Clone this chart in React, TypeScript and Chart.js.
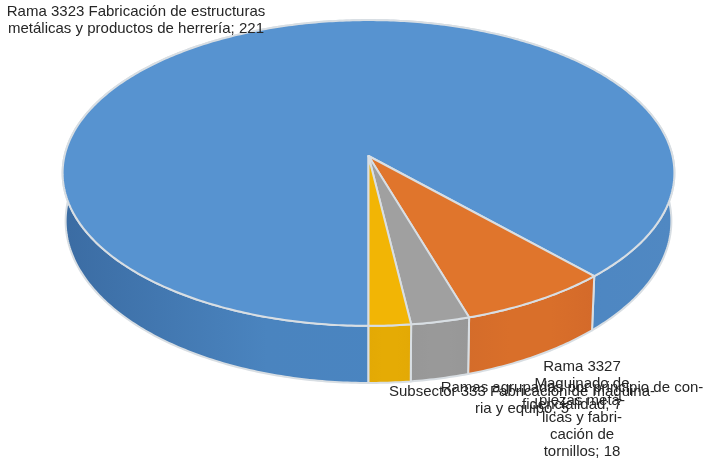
import React, { useEffect, useRef } from "react";
import { Chart, registerables } from "chart.js";

Chart.register(...registerables);

const categories = [
  "Rama 3323 Fabricación de estructuras metálicas y productos de herrería",
  "Rama 3327 Maquinado de piezas metálicas y fabricación de tornillos",
  "Ramas agrupadas por principio de confidencialidad",
  "Subsector 333 Fabricación de maquinaria y equipo",
];
const values = [221, 18, 7, 5];
const faceColors = ["#5793D0", "#E0752C", "#A0A0A0", "#F2B505"];
const wallStops = [
  ["#3B6CA3", "#4A84BF", "#4A85C2", "#5088C2"],
  ["#D46C2A", "#D96F2A", "#D96F2A", "#D46A2A"],
  ["#979797", "#999999", "#999999", "#979797"],
  ["#E3A905", "#E5AB05", "#E5AB05", "#E3A905"],
];
const labelLines = [
  ["Rama 3323 Fabricación de estructuras", "metálicas y productos de herrería"],
  ["Rama 3327", "Maquinado de", "piezas metá-", "licas y fabri-", "cación de", "tornillos"],
  ["Ramas agrupadas por principio de con-", "fidencialidad"],
  ["Subsector 333 Fabricación de maquina-", "ria y equipo"],
];
const labelAnchors = [
  { x: 136, y: 12 },
  { x: 582, y: 367 },
  { x: 572, y: 388 },
  { x: 522, y: 392 },
];

const APEX = { x: 368.5, y: 156 };
const AX = 304;
const AY = 151;
const PERSP = 0.111;
const FLOOR_DROP = 47;
const FLOOR_AX = 301;
const FLOOR_AY = 160;
const LINE = 17;

function project(angle: number, floor: boolean) {
  const u = Math.cos(angle);
  const v = Math.sin(angle);
  const w = 1 - PERSP * v;
  return floor
    ? { x: APEX.x + (FLOOR_AX * u) / w, y: APEX.y + FLOOR_DROP + (FLOOR_AY * v) / w }
    : { x: APEX.x + (AX * u) / w, y: APEX.y + (AY * v) / w };
}

function arcPoints(start: number, end: number, floor: boolean) {
  const n = Math.max(8, Math.ceil((end - start) * 80));
  const pts = [];
  for (let i = 0; i <= n; i++) pts.push(project(start + ((end - start) * i) / n, floor));
  return pts;
}

const pie3d = {
  id: "pie3d",
  beforeDatasetsDraw(chart: any) {
    const ctx = chart.ctx as CanvasRenderingContext2D;
    const arcs = chart.getDatasetMeta(0).data as any[];
    ctx.save();
    ctx.lineJoin = "round";
    arcs.forEach((arc, i) => {
      const top = arcPoints(arc.startAngle, arc.endAngle, false);
      const bottom = arcPoints(arc.startAngle, arc.endAngle, true);
      const xs = bottom.map((p) => p.x);
      const x0 = i === 0 ? APEX.x - AX : Math.min(...xs);
      const x1 = i === 0 ? APEX.x + AX : Math.max(...xs);
      const g = ctx.createLinearGradient(x0, 0, x1, 0);
      wallStops[i].forEach((c, k) => g.addColorStop(k / (wallStops[i].length - 1), c));
      ctx.beginPath();
      top.forEach((p, k) => (k ? ctx.lineTo(p.x, p.y) : ctx.moveTo(p.x, p.y)));
      bottom.reverse().forEach((p) => ctx.lineTo(p.x, p.y));
      ctx.closePath();
      ctx.fillStyle = g;
      ctx.fill();
      ctx.strokeStyle = arc.options.borderColor;
      ctx.lineWidth = arc.options.borderWidth;
      ctx.stroke();
    });
    arcs.forEach((arc) => {
      ctx.beginPath();
      ctx.moveTo(APEX.x, APEX.y);
      arcPoints(arc.startAngle, arc.endAngle, false).forEach((p) => ctx.lineTo(p.x, p.y));
      ctx.closePath();
      ctx.fillStyle = arc.options.backgroundColor;
      ctx.fill();
      ctx.strokeStyle = arc.options.borderColor;
      ctx.lineWidth = arc.options.borderWidth;
      ctx.stroke();
    });
    ctx.restore();
    return false;
  },
  afterDraw(chart: any) {
    const ctx = chart.ctx as CanvasRenderingContext2D;
    ctx.save();
    ctx.font = '15px "Liberation Sans", Arial, sans-serif';
    ctx.fillStyle = "#262626";
    ctx.textAlign = "center";
    ctx.textBaseline = "middle";
    [0, 1, 3, 2].forEach((i) => {
      const lines = labelLines[i];
      lines.forEach((line, k) => {
        const text = k === lines.length - 1 ? `${line}; ${values[i]}` : line;
        ctx.fillText(text, labelAnchors[i].x, labelAnchors[i].y + k * LINE);
      });
    });
    ctx.restore();
  },
};

export default function App() {
  const ref = useRef<HTMLCanvasElement>(null);
  useEffect(() => {
    const chart = new Chart(ref.current!, {
      type: "pie",
      data: {
        labels: categories,
        datasets: [
          {
            data: values,
            backgroundColor: faceColors,
            borderColor: "#D8DEE3",
            borderWidth: 2,
          },
        ],
      },
      options: {
        responsive: false,
        animation: false,
        rotation: 180,
        plugins: { legend: { display: false }, tooltip: { enabled: false } },
      },
      plugins: [pie3d],
    } as any);
    return () => chart.destroy();
  }, []);
  return (
    <div style={{ position: "absolute", left: 0, top: 0 }}>
      <canvas ref={ref} width={705} height={460} style={{ display: "block" }} />
    </div>
  );
}
